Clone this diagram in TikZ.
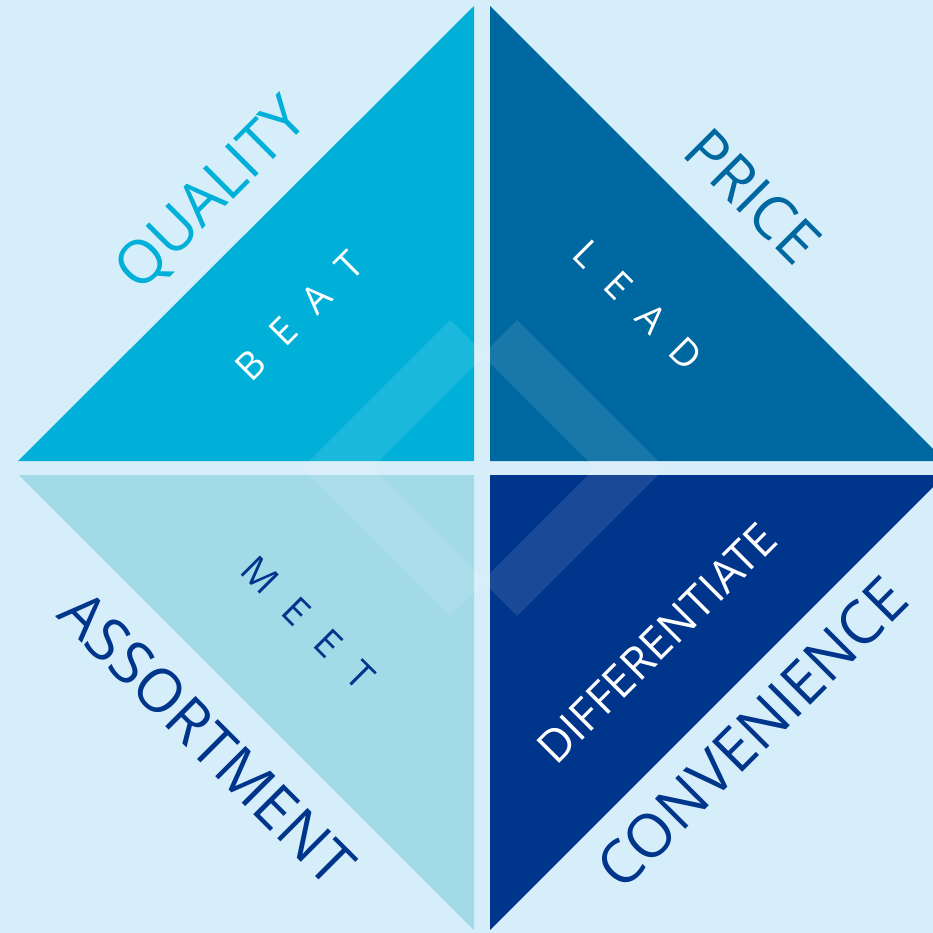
\documentclass[tikz,border=0pt]{standalone}
\usepackage{fontspec}
\setmainfont{Open Sans}
\definecolor{bgblue}{HTML}{D6EEF9}
\definecolor{quality}{HTML}{00B0D8}
\definecolor{price}{HTML}{0068A0}
\definecolor{assort}{HTML}{A3DAE8}
\definecolor{conven}{HTML}{00358C}
\newcommand\lsp{\hspace{24pt}}
\begin{document}
\begin{tikzpicture}[x=1pt,y=-1pt,
  outerlabel/.style={inner sep=0pt, font=\fontsize{60}{70}\selectfont},
  innerlabel/.style={inner sep=0pt, font=\fontsize{38}{44}\selectfont},
  sheen/.style={fill=white, fill opacity=0.1}]
  % canvas
  \fill[bgblue] (0,0) rectangle (933,933);
  \useasboundingbox (0,0) rectangle (933,933);
  \clip (0,0) rectangle (933,933);

  % four quadrant triangles
  \fill[quality] (18,461) -- (474,461) -- (474,6) -- cycle;
  \fill[price]   (490,6) -- (490,461) -- (945,461) -- cycle;
  \fill[assort]  (19,475) -- (474,475) -- (474,930) -- cycle;
  \fill[conven]  (490,475) -- (945,475) -- (490,930) -- cycle;

  % translucent chevron bands: "<" on the left half, ">" on the right half
  \begin{scope}
    \clip (0,0) rectangle (482,933);
    \fill[sheen] (302,468) -- (450,320) -- (485,355) -- (372,468)
                 -- (485,581) -- (450,616) -- cycle;
  \end{scope}
  \begin{scope}
    \clip (482,0) rectangle (933,933);
    \fill[sheen] (665,468) -- (517,320) -- (482,355) -- (595,468)
                 -- (482,581) -- (517,616) -- cycle;
  \end{scope}

  % outer labels
  \node[outerlabel, text=quality, rotate=45]  (lquality) at (213,196) {QUALITY};
  \node[outerlabel, text=price,   rotate=-45] (lprice)   at (753,196) {PRICE};
  \node[outerlabel, text=conven,  rotate=-45] (lassort)  at (207,738) {ASSORTMENT};
  \node[outerlabel, text=conven,  rotate=45]  (lconven)  at (752,733) {CONVENIENCE};

  % inner labels
  \node[innerlabel, text=white,  rotate=45]  (lbeat) at (299,316) {B\lsp E\lsp A\lsp T};
  \node[innerlabel, text=white,  rotate=-45] (llead) at (638,305) {L\lsp E\lsp A\lsp D};
  \node[innerlabel, text=conven, rotate=-45] (lmeet) at (308,623) {M\lsp E\lsp E\lsp T};
  \node[inner sep=0pt, font=\fontsize{45}{52}\selectfont, text=white, rotate=45]
       (ldiff) at (657,643) {DIFFERENTIATE};
\end{tikzpicture}
\end{document}
